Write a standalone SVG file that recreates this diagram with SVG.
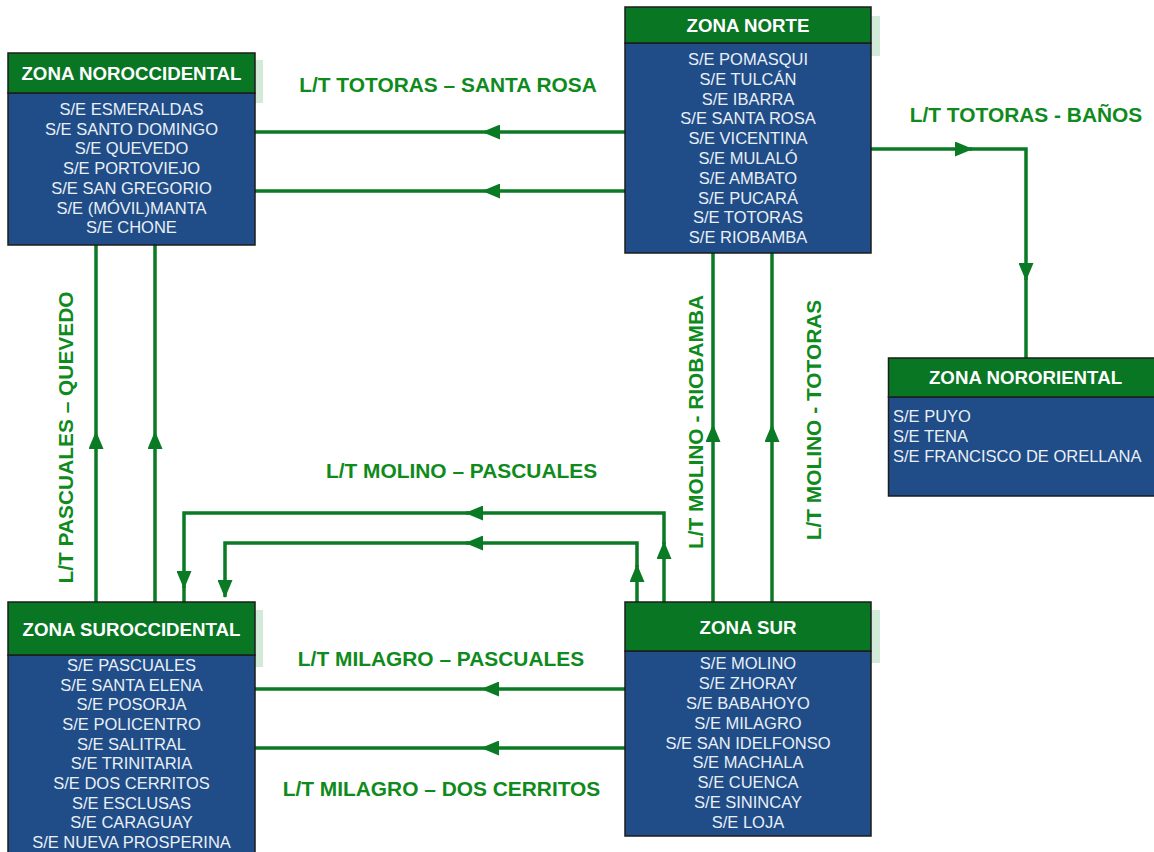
<svg xmlns="http://www.w3.org/2000/svg" width="1154" height="852" viewBox="0 0 1154 852">
<style>
.sh{fill:#d2ebd8}
.hd{fill:#087622;stroke:#1c1c1c;stroke-width:1.5}
.bd{fill:#204d88;stroke:#1c1c1c;stroke-width:1.5}
.ht{font-family:"Liberation Sans",Arial,sans-serif;font-weight:bold;font-size:18.7px;fill:#ffffff;text-anchor:middle}
.it{font-family:"Liberation Sans",Arial,sans-serif;font-size:16.5px;fill:#eaf0f7;text-anchor:middle}
.il{font-family:"Liberation Sans",Arial,sans-serif;font-size:16.5px;fill:#eaf0f7}
.lb{font-family:"Liberation Sans",Arial,sans-serif;font-weight:bold;font-size:20.9px;fill:#0f8a1c;text-anchor:middle}
.cn{fill:none;stroke:#0b7a25;stroke-width:3.5;stroke-linejoin:miter}
.ca{fill:none;stroke:#0b7a25;stroke-width:3.5;marker-end:url(#ah)}
.cm{fill:none;stroke:#0b7a25;stroke-width:3.5;marker-mid:url(#ah)}
</style>
<defs>
<marker id="ah" viewBox="0 0 18 15" refX="17" refY="7.5" markerWidth="18" markerHeight="15" markerUnits="userSpaceOnUse" orient="auto">
<path d="M0,0 L18,7.5 L0,15 z" fill="#0b7a25"/>
</marker>
</defs>
<rect width="1154" height="852" fill="#ffffff"/>

<g id="connectors">
<path class="cm" d="M625,132 H483 H255"/>
<path class="cm" d="M625,191 H483 H255"/>
<path class="ca" d="M871,149 H972"/>
<path class="ca" d="M970,149 H1026 V280"/>
<path class="cn" d="M1026,278 V358"/>
<path class="cm" d="M96,602 V432 V245"/>
<path class="cm" d="M155,602 V432 V245"/>
<path class="cm" d="M713,602 V425 V253"/>
<path class="cm" d="M772,602 V425 V253"/>
<path class="ca" d="M664,602 V542"/>
<path class="ca" d="M664,544 V513 H466"/>
<path class="ca" d="M468,513 H184 V588"/>
<path class="cn" d="M184,586 V602"/>
<path class="ca" d="M637,602 V565"/>
<path class="ca" d="M637,567 V543 H466"/>
<path class="ca" d="M468,543 H225 V597"/>
<path class="cm" d="M625,689 H482 H255"/>
<path class="cm" d="M625,748 H482 H255"/>
</g>

<g id="labels">
<text class="lb" x="448" y="92">L/T TOTORAS – SANTA ROSA</text>
<text class="lb" x="1026" y="121.5">L/T TOTORAS - BAÑOS</text>
<text class="lb" x="461.5" y="477.5">L/T MOLINO – PASCUALES</text>
<text class="lb" x="441" y="666">L/T MILAGRO – PASCUALES</text>
<text class="lb" x="441.5" y="796">L/T MILAGRO – DOS CERRITOS</text>
<text class="lb" transform="translate(73,437.5) rotate(-90)">L/T PASCUALES – QUEVEDO</text>
<text class="lb" transform="translate(703,422) rotate(-90)">L/T MOLINO - RIOBAMBA</text>
<text class="lb" transform="translate(821,420) rotate(-90)">L/T MOLINO - TOTORAS</text>
</g>

<g id="zona-noroccidental">
<rect class="sh" x="16" y="60" width="247" height="43"/>
<rect class="bd" x="8" y="93" width="247" height="152"/>
<rect class="hd" x="8" y="53" width="247" height="40"/>
<text class="ht" x="131.5" y="79.5">ZONA NOROCCIDENTAL</text>
<text class="it" x="131.5" y="115">S/E ESMERALDAS</text>
<text class="it" x="131.5" y="134.7">S/E SANTO DOMINGO</text>
<text class="it" x="131.5" y="154.4">S/E QUEVEDO</text>
<text class="it" x="131.5" y="174.1">S/E PORTOVIEJO</text>
<text class="it" x="131.5" y="193.8">S/E SAN GREGORIO</text>
<text class="it" x="131.5" y="213.5">S/E (MÓVIL)MANTA</text>
<text class="it" x="131.5" y="233.2">S/E CHONE</text>
</g>

<g id="zona-norte">
<rect class="sh" x="634" y="16" width="246" height="40"/>
<rect class="bd" x="625" y="43" width="246" height="210"/>
<rect class="hd" x="625" y="7" width="246" height="36"/>
<text class="ht" x="748" y="32">ZONA NORTE</text>
<text class="it" x="748" y="65">S/E POMASQUI</text>
<text class="it" x="748" y="84.8">S/E TULCÁN</text>
<text class="it" x="748" y="104.6">S/E IBARRA</text>
<text class="it" x="748" y="124.3">S/E SANTA ROSA</text>
<text class="it" x="748" y="144.1">S/E VICENTINA</text>
<text class="it" x="748" y="163.9">S/E MULALÓ</text>
<text class="it" x="748" y="183.7">S/E AMBATO</text>
<text class="it" x="748" y="203.5">S/E PUCARÁ</text>
<text class="it" x="748" y="223.2">S/E TOTORAS</text>
<text class="it" x="748" y="243">S/E RIOBAMBA</text>
</g>

<g id="zona-nororiental">
<rect class="bd" x="888.5" y="397" width="276" height="99"/>
<rect class="hd" x="888.5" y="358" width="276" height="39"/>
<text class="ht" x="1025.5" y="384">ZONA NORORIENTAL</text>
<text class="il" x="893" y="422">S/E PUYO</text>
<text class="il" x="893" y="442">S/E TENA</text>
<text class="il" x="893" y="462">S/E FRANCISCO DE ORELLANA</text>
</g>

<g id="zona-suroccidental">
<rect class="sh" x="16" y="610" width="247" height="57"/>
<rect class="bd" x="8" y="655" width="247" height="210"/>
<rect class="hd" x="8" y="602" width="247" height="53"/>
<text class="ht" x="131.5" y="636">ZONA SUROCCIDENTAL</text>
<text class="it" x="131.5" y="671">S/E PASCUALES</text>
<text class="it" x="131.5" y="690.7">S/E SANTA ELENA</text>
<text class="it" x="131.5" y="710.3">S/E POSORJA</text>
<text class="it" x="131.5" y="730">S/E POLICENTRO</text>
<text class="it" x="131.5" y="749.7">S/E SALITRAL</text>
<text class="it" x="131.5" y="769.3">S/E TRINITARIA</text>
<text class="it" x="131.5" y="789">S/E DOS CERRITOS</text>
<text class="it" x="131.5" y="808.7">S/E ESCLUSAS</text>
<text class="it" x="131.5" y="828.3">S/E CARAGUAY</text>
<text class="it" x="131.5" y="848">S/E NUEVA PROSPERINA</text>
</g>

<g id="zona-sur">
<rect class="sh" x="634" y="610" width="246" height="53"/>
<rect class="bd" x="625" y="651" width="246" height="185"/>
<rect class="hd" x="625" y="602" width="246" height="49"/>
<text class="ht" x="748" y="634">ZONA SUR</text>
<text class="it" x="748" y="669">S/E MOLINO</text>
<text class="it" x="748" y="688.9">S/E ZHORAY</text>
<text class="it" x="748" y="708.8">S/E BABAHOYO</text>
<text class="it" x="748" y="728.6">S/E MILAGRO</text>
<text class="it" x="748" y="748.5">S/E SAN IDELFONSO</text>
<text class="it" x="748" y="768.4">S/E MACHALA</text>
<text class="it" x="748" y="788.3">S/E CUENCA</text>
<text class="it" x="748" y="808.1">S/E SININCAY</text>
<text class="it" x="748" y="828">S/E LOJA</text>
</g>
</svg>
